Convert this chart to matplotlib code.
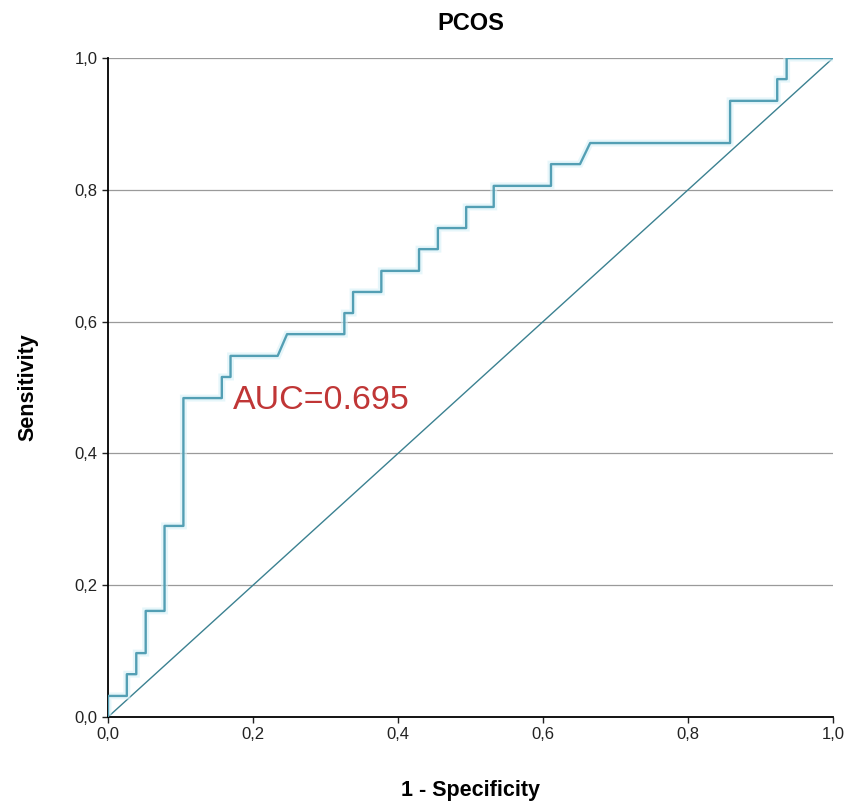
import matplotlib
matplotlib.use("Agg")
import matplotlib.pyplot as plt
from matplotlib.ticker import FuncFormatter

# ROC curve vertices (1 - specificity, sensitivity)
fpr = [0.0, 0.0, 0.026, 0.026, 0.039, 0.039, 0.052, 0.052, 0.078, 0.078,
       0.104, 0.104, 0.157, 0.157, 0.169, 0.169, 0.234, 0.247, 0.326, 0.326,
       0.338, 0.338, 0.377, 0.377, 0.429, 0.429, 0.455, 0.455, 0.494, 0.494,
       0.532, 0.532, 0.611, 0.611, 0.651, 0.665, 0.858, 0.858, 0.923, 0.923,
       0.936, 0.936, 1.0]
tpr = [0.0, 0.032, 0.032, 0.065, 0.065, 0.097, 0.097, 0.161, 0.161, 0.290,
       0.290, 0.484, 0.484, 0.516, 0.516, 0.548, 0.548, 0.581, 0.581, 0.613,
       0.613, 0.645, 0.645, 0.677, 0.677, 0.710, 0.710, 0.742, 0.742, 0.774,
       0.774, 0.806, 0.806, 0.839, 0.839, 0.871, 0.871, 0.935, 0.935, 0.968,
       0.968, 1.0, 1.0]
ref_line = [0.0, 1.0]
ticks = [0.0, 0.2, 0.4, 0.6, 0.8, 1.0]
auc_label = "AUC=0.695"

FONT = ["Liberation Sans Narrow", "Liberation Sans", "DejaVu Sans"]
BOLD = ["Liberation Sans", "DejaVu Sans"]
plt.rcParams["font.family"] = FONT

fig = plt.figure(figsize=(8.49, 8.07), dpi=100)
ax = fig.add_axes([0.1272, 0.1115, 0.854, 0.8166])

ax.set_xlim(0, 1)
ax.set_ylim(0, 1)
for y in ticks[1:]:
    ax.axhline(y, color="#9a9a9a", lw=0.9, zorder=1)

ax.plot(ref_line, ref_line, color="#3b8191", lw=1.0, zorder=2)
ax.plot(fpr, tpr, color="#d6f1f8", lw=5, alpha=0.6, zorder=2,
        solid_capstyle="butt", solid_joinstyle="miter")
ax.plot(fpr, tpr, color="#539fb4", lw=1.7, zorder=3)

ax.text(0.172, 0.481, auc_label, color="#c03636", fontsize=24.5,
        ha="left", va="center", family=BOLD)

ax.spines[["top", "right"]].set_visible(False)
ax.spines["left"].set_linewidth(1.3)
ax.spines["bottom"].set_linewidth(1.3)
ax.set_xticks(ticks)
ax.set_yticks(ticks)
fmt = FuncFormatter(lambda v, _: f"{v:.1f}".replace(".", ","))
ax.xaxis.set_major_formatter(fmt)
ax.yaxis.set_major_formatter(fmt)
ax.tick_params(length=4, width=1, labelsize=12, colors="#222222")

ax.set_xlabel("1 - Specificity", fontsize=15.5, fontweight="bold",
              labelpad=27, family=BOLD)
ax.set_ylabel("Sensitivity", fontsize=15.5, fontweight="bold",
              labelpad=26, family=BOLD)
ax.set_title("PCOS", fontsize=17, fontweight="bold", pad=20, family=BOLD)

fig.savefig("out.png", dpi=100, facecolor="white")
